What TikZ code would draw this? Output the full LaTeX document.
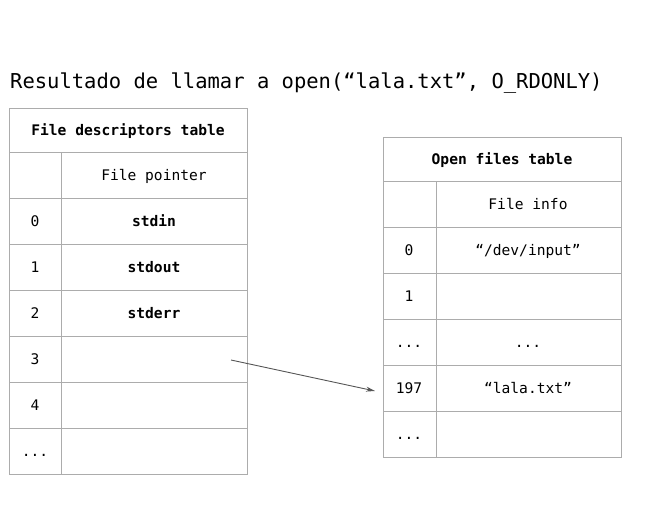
\documentclass[tikz,border=0pt]{standalone}
\usepackage{fontspec}
\newfontfamily\mono{DejaVu Sans Mono}
\definecolor{gridgray}{RGB}{172,172,172}
\definecolor{arrowgray}{RGB}{85,85,85}
\tikzset{
  cell/.style={anchor=base, font=\mono\fontsize{14.6}{17}\selectfont, text=black},
  head/.style={cell, font=\mono\bfseries\fontsize{14.6}{17}\selectfont},
  gridline/.style={draw=gridgray, line width=1pt},
  ptr/.style={draw=arrowgray, line width=0.9pt, -{Stealth[length=9pt,width=5pt]}}
}
\usetikzlibrary{arrows.meta}
\begin{document}
\begin{tikzpicture}[x=1pt,y=-1pt]
\useasboundingbox (0,0) rectangle (650,520);
% title
\node[anchor=base west, inner sep=0pt, font=\mono\fontsize{20.5}{24}\selectfont] (title) at (10,88) {Resultado de llamar a open(“lala.txt”, O\_RDONLY)};
% file descriptors table
\draw[gridline] (9,108) rectangle (247,474);
\foreach \y in {152,198,244,290,336,382,428} \draw[gridline] (9,\y) -- (247,\y);
\draw[gridline] (61,152) -- (61,474);
\node[head] (fdhead) at (128,135) {File descriptors table};
\node[cell] (fdcol) at (154,180) {File pointer};
\node[cell] (fd0) at (35,226) {0};
\node[head] (fp0) at (154,226) {stdin};
\node[cell] (fd1) at (35,272) {1};
\node[head] (fp1) at (154,272) {stdout};
\node[cell] (fd2) at (35,318) {2};
\node[head] (fp2) at (154,318) {stderr};
\node[cell] (fd3) at (35,364) {3};
\coordinate (fp3) at (231,360);
\node[cell] (fd4) at (35,410) {4};
\node[cell] (fdmore) at (35,456) {...};
% open files table
\draw[gridline] (383,137) rectangle (621,457);
\foreach \y in {181,227,273,319,365,411} \draw[gridline] (383,\y) -- (621,\y);
\draw[gridline] (436,181) -- (436,457);
\node[head] (ofhead) at (502,164) {Open files table};
\node[cell] (ofcol) at (528,209) {File info};
\node[cell] (of0) at (409,255) {0};
\node[cell] (fi0) at (528,255) {“/dev/input”};
\node[cell] (of1) at (409,301) {1};
\node[cell] (ofdots) at (409,347) {...};
\node[cell] (fidots) at (528,347) {...};
\node[cell] (of197) at (409,393) {197};
\node[cell] (fi197) at (528,393) {“lala.txt”};
\node[cell] (ofmore) at (409,439) {...};
\coordinate (of197in) at (375,391);
% pointer
\draw[ptr] (fp3) -- (of197in);
\end{tikzpicture}
\end{document}
